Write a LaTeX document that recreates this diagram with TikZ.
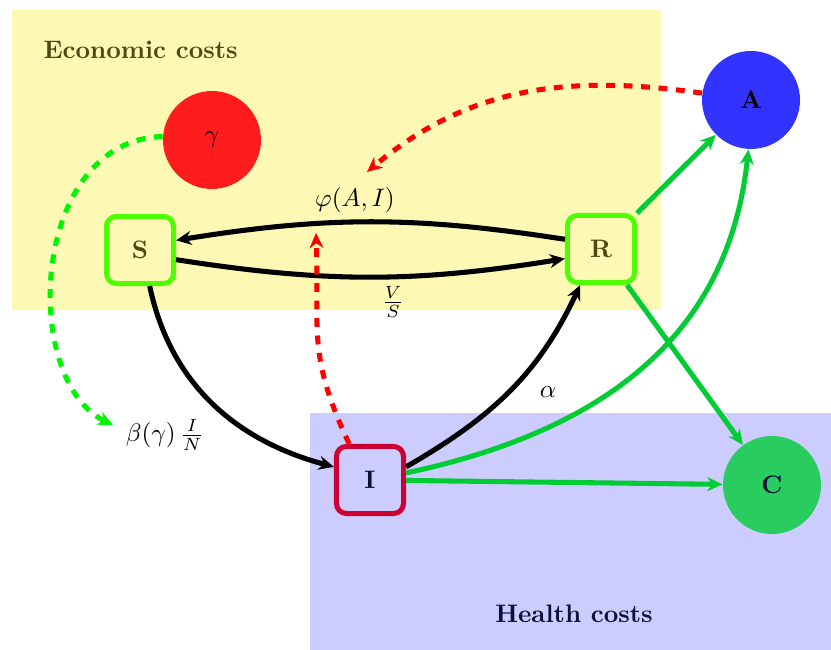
\documentclass[tikz,border=0pt]{standalone}
\usetikzlibrary{arrows.meta}
\definecolor{econbg}{RGB}{253,249,180}
\definecolor{healthbg}{RGB}{204,204,255}
\definecolor{econtxt}{RGB}{80,72,16}
\definecolor{healthtxt}{RGB}{15,15,55}
\definecolor{gammared}{RGB}{255,28,28}
\definecolor{ablue}{RGB}{51,51,255}
\definecolor{cgreen}{RGB}{41,204,94}
\definecolor{boxgreen}{RGB}{77,255,0}
\definecolor{icrimson}{RGB}{204,0,51}
\definecolor{edgegreen}{RGB}{0,204,51}
\definecolor{dashgreen}{RGB}{0,245,0}
\begin{document}
\begin{tikzpicture}[x=0.395pt,y=0.395pt,
  stbox/.style={draw, rounded corners=4pt, line width=2pt, minimum size=26.5pt, inner sep=0pt, font=\bfseries},
  stcirc/.style={circle, minimum size=38.7pt, inner sep=0pt, font=\bfseries},
  flow/.style={line width=2pt, -{Stealth[length=6pt,width=5.5pt]}},
  gflow/.style={flow, draw=edgegreen},
  rdash/.style={line width=2pt, draw=red, dash pattern=on 3.5pt off 3.4pt, -{Stealth[length=6pt,width=5.5pt]}},
  gdash/.style={line width=2pt, draw=dashgreen, dash pattern=on 3.5pt off 3.4pt, -{Stealth[length=6pt,width=5.5pt]}},
]
\useasboundingbox (0,0) rectangle (831,650);
\fill[econbg] (12,340) rectangle (661,640);
\fill[healthbg] (310,0) rectangle (831,237);
\node[anchor=west, inner sep=0pt, text=econtxt, font=\bfseries] (econ) at (43,600) {Economic costs};
\node[text=healthtxt, font=\bfseries] (health) at (574,36) {Health costs};

\node[stcirc, fill=gammared] (G) at (212,510) {$\gamma$};
\node[stcirc, fill=ablue] (A) at (751,550) {A};
\node[stcirc, fill=cgreen, text=healthtxt] (C) at (772,165) {C};

\node[stbox, draw=boxgreen, text=econtxt] (S) at (140,400) {S};
\node[stbox, draw=boxgreen, text=econtxt] (R) at (601,401) {R};
\node[stbox, draw=icrimson, text=healthtxt] (I) at (370,170) {I};

\node (phi) at (355,450) {$\varphi(A,I)$};
\node (vs) at (393,348) {$\frac{V}{S}$};
\node (alpha) at (548,258) {$\alpha$};
\node (beta) at (165,215) {$\beta(\gamma)\,\frac{I}{N}$};

\coordinate (phitop) at (367,478);
\coordinate (redend) at (316,417);
\coordinate (gend) at (113,225);

\draw[flow] (R.165) to[bend right=9] (S.15);
\draw[flow] (S.-15) to[bend right=9] (R.-165);
\draw[flow] (S.-75) to[out=-78, in=165] (I.160);
\draw[flow] (I.20) to[out=30, in=-115] (R.-120);

\draw[gflow] (I.11) to[out=12, in=-96, looseness=1.05] (A.-93);
\draw[gflow] (I) -- (C);
\draw[gflow] (R) -- (A);
\draw[gflow] (R) -- (C);

\draw[rdash] (A.172) to[out=172, in=40] (phitop);
\draw[rdash] (I.120) to[out=115, in=-88, looseness=1.2] (redend);
\draw[gdash] (G.176) .. controls (30,510) and (20,270) .. (gend);
\end{tikzpicture}
\end{document}
